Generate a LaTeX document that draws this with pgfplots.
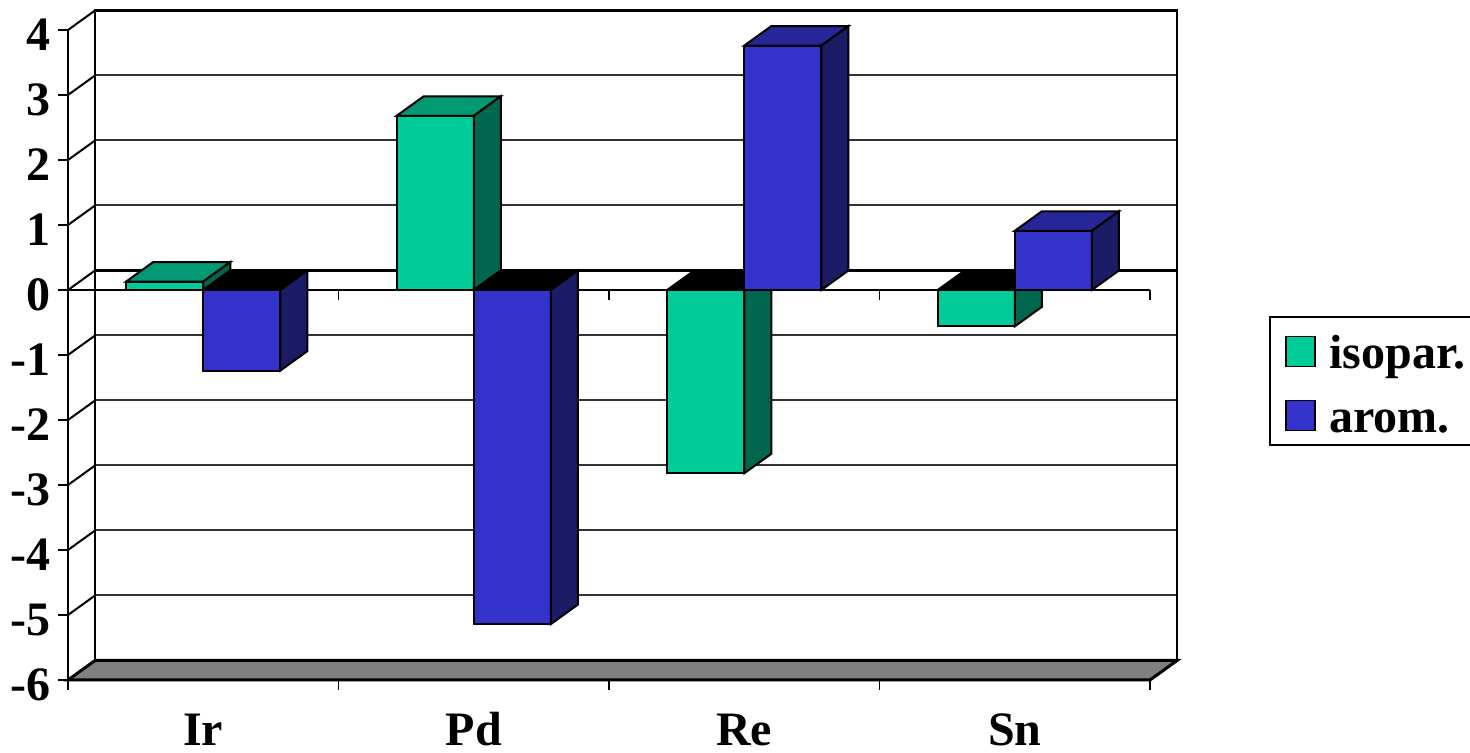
\documentclass[border=0pt]{standalone}
\usepackage{fontspec}
\setmainfont{Liberation Serif}
\usepackage{pgfplots}
\pgfplotsset{compat=1.18}
\definecolor{isoF}{RGB}{0,204,153}
\definecolor{isoT}{RGB}{0,153,115}
\definecolor{isoS}{RGB}{0,102,77}
\definecolor{aroF}{RGB}{51,51,204}
\definecolor{aroT}{RGB}{38,38,153}
\definecolor{aroS}{RGB}{28,28,102}
\definecolor{floorgray}{RGB}{128,128,128}
\begin{document}
\begin{tikzpicture}
\begin{axis}[
  x=135.25pt, y=32.5pt,
  xmin=-0.5, xmax=3.6, ymin=-6, ymax=4.3,
  clip=false,
  axis lines*=left,
  axis line style={draw=none},
  tick align=outside,
  major tick length=5pt,
  ytick={-6,-5,...,4},
  yticklabels={-6,-5,-4,-3,-2,-1,0,1,2,3,4},
  ytick style={black, line width=0.8pt},
  xtick={0,1,2,3},
  xticklabels={Ir,Pd,Re,Sn},
  xtick style={draw=none},
  tick label style={font=\fontsize{24}{28}\selectfont\bfseries},
  yticklabel style={inner sep=0pt, xshift=-3.5pt, yshift=-2.5pt},
  xticklabel style={inner sep=0pt, anchor=north, text height=16.5pt, yshift=-11pt},
  legend cell align=left,
  legend image code/.code={\draw[#1, line width=0.7pt] (0pt,-9pt) rectangle (14.5pt,6pt);},
  legend style={at={(1.083,0.544)}, anchor=north west, draw=black, line width=1pt, fill=white,
    inner xsep=7.5pt, inner ysep=0pt, row sep=0pt,
    font=\fontsize{24}{28}\selectfont\bfseries,
    nodes={inner xsep=7pt, inner ysep=0pt, text height=26pt, text depth=6pt}},
]
% floor
\addplot[fill=floorgray, draw=black, line width=1.5pt, forget plot] coordinates {(-0.5,-6) (3.5,-6) (3.6,-5.7) (-0.4,-5.7)} -- cycle;
% back wall grid
\addplot[black!80, line width=1pt, forget plot, unbounded coords=jump] coordinates {
 (-0.4,-4.7) (3.6,-4.7) (3.6,nan)
 (-0.4,-3.7) (3.6,-3.7) (3.6,nan)
 (-0.4,-2.7) (3.6,-2.7) (3.6,nan)
 (-0.4,-1.7) (3.6,-1.7) (3.6,nan)
 (-0.4,-0.7) (3.6,-0.7) (3.6,nan)
 (-0.4,1.3) (3.6,1.3) (3.6,nan)
 (-0.4,2.3) (3.6,2.3) (3.6,nan)
 (-0.4,3.3) (3.6,3.3)};
% left wall diagonals
\addplot[black, line width=1pt, forget plot, unbounded coords=jump] coordinates {
 (-0.5,-5) (-0.4,-4.7) (-0.4,nan)
 (-0.5,-4) (-0.4,-3.7) (-0.4,nan)
 (-0.5,-3) (-0.4,-2.7) (-0.4,nan)
 (-0.5,-2) (-0.4,-1.7) (-0.4,nan)
 (-0.5,-1) (-0.4,-0.7) (-0.4,nan)
 (-0.5,0) (-0.4,0.3) (-0.4,nan)
 (-0.5,1) (-0.4,1.3) (-0.4,nan)
 (-0.5,2) (-0.4,2.3) (-0.4,nan)
 (-0.5,3) (-0.4,3.3) (-0.4,nan)
 (-0.5,4) (-0.4,4.3)};
% back wall frame
\addplot[black, line width=1.2pt, forget plot] coordinates {(-0.4,-5.7) (-0.4,4.3) (3.6,4.3) (3.6,-5.7)};
% front left vertical
\addplot[black, line width=1pt, forget plot] coordinates {(-0.5,-6) (-0.5,4)};
% zero plane lines and ticks
\addplot[black, line width=1.3pt, forget plot] coordinates {(-0.4,0.3) (3.6,0.3)};
\addplot[black, line width=1.3pt, forget plot] coordinates {(-0.5,0) (3.5,0)};
\addplot[black, line width=0.8pt, forget plot, unbounded coords=jump] coordinates {
 (0.5,0) (0.5,-0.15) (0.5,nan) (1.5,0) (1.5,-0.15) (1.5,nan)
 (2.5,0) (2.5,-0.15) (2.5,nan) (3.5,0) (3.5,-0.15)};
% bottom ticks
\addplot[black, line width=0.8pt, forget plot, unbounded coords=jump] coordinates {
 (-0.5,-6) (-0.5,-6.15) (-0.5,nan) (0.5,-6) (0.5,-6.15) (0.5,nan) (1.5,-6) (1.5,-6.15) (1.5,nan)
 (2.5,-6) (2.5,-6.15) (2.5,nan) (3.5,-6) (3.5,-6.15)};

% ===== isopar. bars =====
\addplot[ybar, bar width=0.285, bar shift=-0.1425, fill=isoF, draw=black, line width=1pt, forget plot]
  coordinates {(0,0.13) (1,2.68) (2,-2.82) (3,-0.56)};
% Ir (positive)
\addplot[fill=isoT, draw=black, line width=1pt, forget plot] coordinates {(-0.285,0.13) (0,0.13) (0.1,0.43) (-0.185,0.43)} -- cycle;
\addplot[fill=isoS, draw=black, line width=1pt, forget plot] coordinates {(0,0) (0,0.13) (0.1,0.43) (0.1,0.3)} -- cycle;
% Pd (positive)
\addplot[fill=isoT, draw=black, line width=1pt, forget plot] coordinates {(0.715,2.68) (1,2.68) (1.1,2.98) (0.815,2.98)} -- cycle;
\addplot[fill=isoS, draw=black, line width=1pt, forget plot] coordinates {(1,0) (1,2.68) (1.1,2.98) (1.1,0.3)} -- cycle;
% Re (negative)
\addplot[fill=black, draw=black, line width=1pt, forget plot] coordinates {(1.715,0) (2,0) (2.1,0.3) (1.815,0.3)} -- cycle;
\addplot[fill=isoS, draw=black, line width=1pt, forget plot] coordinates {(2,0) (2,-2.82) (2.1,-2.52) (2.1,0.3)} -- cycle;
% Sn (negative)
\addplot[fill=black, draw=black, line width=1pt, forget plot] coordinates {(2.715,0) (3,0) (3.1,0.3) (2.815,0.3)} -- cycle;
\addplot[fill=isoS, draw=black, line width=1pt, forget plot] coordinates {(3,0) (3,-0.56) (3.1,-0.26) (3.1,0.3)} -- cycle;

% ===== arom. bars =====
\addplot[ybar, bar width=0.285, bar shift=0.1425, fill=aroF, draw=black, line width=1pt, forget plot]
  coordinates {(0,-1.24) (1,-5.14) (2,3.76) (3,0.91)};
% Ir (negative)
\addplot[fill=black, draw=black, line width=1pt, forget plot] coordinates {(0,0) (0.285,0) (0.385,0.3) (0.1,0.3)} -- cycle;
\addplot[fill=aroS, draw=black, line width=1pt, forget plot] coordinates {(0.285,0) (0.285,-1.24) (0.385,-0.94) (0.385,0.3)} -- cycle;
% Pd (negative)
\addplot[fill=black, draw=black, line width=1pt, forget plot] coordinates {(1,0) (1.285,0) (1.385,0.3) (1.1,0.3)} -- cycle;
\addplot[fill=aroS, draw=black, line width=1pt, forget plot] coordinates {(1.285,0) (1.285,-5.14) (1.385,-4.84) (1.385,0.3)} -- cycle;
% Re (positive)
\addplot[fill=aroT, draw=black, line width=1pt, forget plot] coordinates {(2,3.76) (2.285,3.76) (2.385,4.06) (2.1,4.06)} -- cycle;
\addplot[fill=aroS, draw=black, line width=1pt, forget plot] coordinates {(2.285,0) (2.285,3.76) (2.385,4.06) (2.385,0.3)} -- cycle;
% Sn (positive)
\addplot[fill=aroT, draw=black, line width=1pt, forget plot] coordinates {(3,0.91) (3.285,0.91) (3.385,1.21) (3.1,1.21)} -- cycle;
\addplot[fill=aroS, draw=black, line width=1pt, forget plot] coordinates {(3.285,0) (3.285,0.91) (3.385,1.21) (3.385,0.3)} -- cycle;

\addlegendimage{fill=isoF, draw=black}
\addlegendentry{isopar.}
\addlegendimage{fill=aroF, draw=black}
\addlegendentry{arom.}
\end{axis}
\pgfresetboundingbox
\path (-34pt,-36.5pt) rectangle (701pt,340pt);
\end{tikzpicture}
\end{document}
